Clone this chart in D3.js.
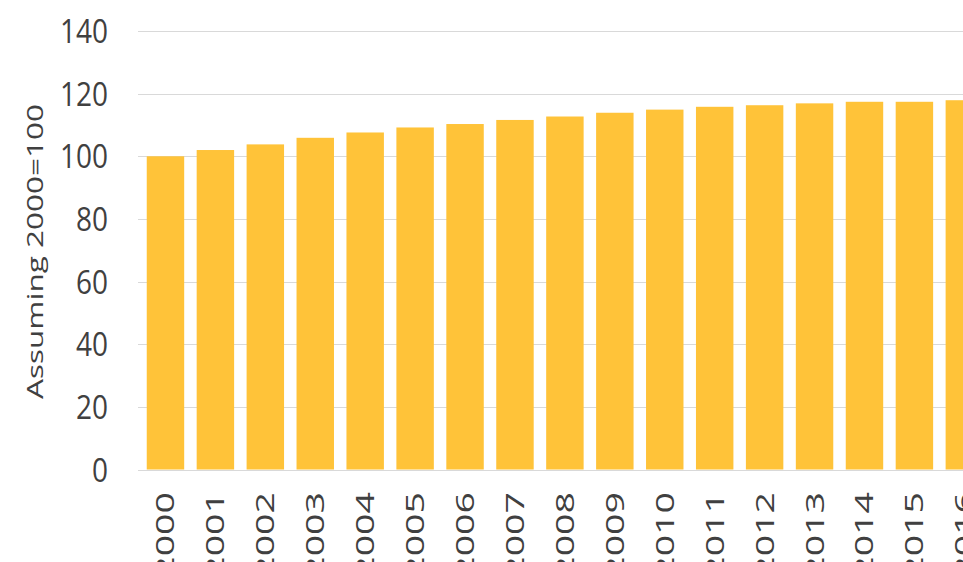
<!DOCTYPE html>
<html>
<head>
<meta charset="utf-8">
<script src="https://cdn.jsdelivr.net/npm/d3@7"></script>
<style>
  html, body { margin: 0; padding: 0; background: #fff; overflow: hidden; }
  svg { display: block; }
  text { font-family: "Open Sans", "Noto Sans", sans-serif; fill: #404040; }
</style>
</head>
<body>
<svg id="chart" width="963" height="562"></svg>
<script>
// Index values, base year 2000 = 100
const years = ["2000","2001","2002","2003","2004","2005","2006","2007","2008",
               "2009","2010","2011","2012","2013","2014","2015","2016"];
const values = [100, 102, 103.8, 105.9, 107.6, 109.2, 110.3, 111.6, 112.7,
                113.9, 114.9, 115.8, 116.3, 116.9, 117.4, 117.4, 117.9];
const yTicks = [0, 20, 40, 60, 80, 100, 120, 140];
const yTitle = "Assuming 2000=100";

const svg = d3.select("#chart");

const x = d3.scaleBand()
  .domain(years)
  .range([140.5, 989.3])
  .paddingInner(0.25)
  .paddingOuter(0.125);

const y = d3.scaleLinear()
  .domain([0, 140])
  .range([469.5, 31]);

// horizontal gridlines
svg.append("g")
  .selectAll("line")
  .data(yTicks)
  .join("line")
  .attr("x1", 138)
  .attr("x2", 1000)
  .attr("y1", d => Math.round(y(d)) + 0.5)
  .attr("y2", d => Math.round(y(d)) + 0.5)
  .attr("stroke", "#d9d9d9")
  .attr("stroke-width", 1);

// bars
svg.append("g")
  .selectAll("rect")
  .data(years.map((yr, i) => ({ yr, v: values[i] })))
  .join("rect")
  .attr("x", d => x(d.yr))
  .attr("width", x.bandwidth())
  .attr("y", d => y(d.v))
  .attr("height", d => y(0) - y(d.v))
  .attr("fill", "#ffc339");

// y axis labels
const yAxis = d3.axisLeft(y).tickValues(yTicks).tickSize(0).tickPadding(0);
const gy = svg.append("g")
  .attr("transform", "translate(108,0)")
  .call(yAxis);
gy.select(".domain").remove();
gy.selectAll("text")
  .attr("x", 0)
  .attr("dy", "0.36em")
  .attr("transform", "scale(1,1.15)")
  .style("font-size", "28px")
  .style("fill", "#404040")
  .style("font-family", "'Open Sans', sans-serif");
// keep the vertical stretch centred on each tick
gy.selectAll(".tick text")
  .attr("y", 0)
  .attr("transform", null)
  .each(function () {
    d3.select(this).attr("transform", "scale(1,1.15)");
  });

// x category labels, rotated
const gx = svg.append("g");
gx.selectAll("text")
  .data(years)
  .join("text")
  .attr("transform", d => `translate(${x(d) + x.bandwidth() / 2},492) rotate(-90) scale(1.5,1)`)
  .attr("text-anchor", "end")
  .attr("dy", "0.36em")
  .style("font-size", "25px")
  .text(d => d);

// y axis title
svg.append("text")
  .attr("transform", "translate(43,251.5) rotate(-90) scale(1.5,1)")
  .attr("text-anchor", "middle")
  .style("font-size", "21px")
  .text(yTitle);
</script>
</body>
</html>
